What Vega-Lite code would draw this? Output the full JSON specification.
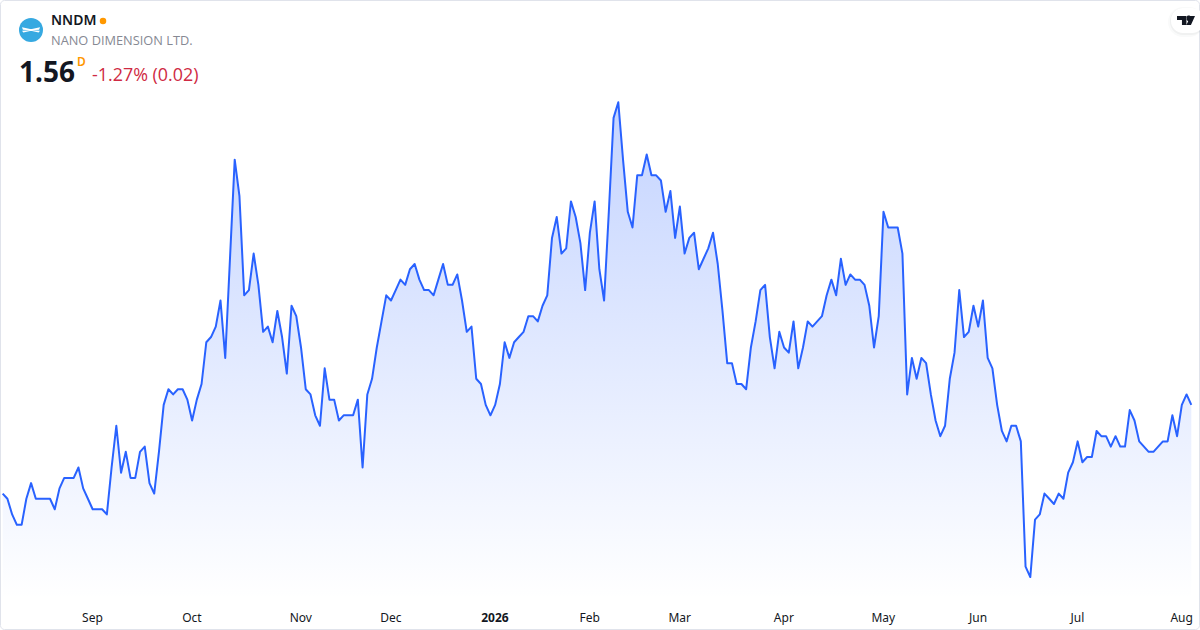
{"$schema":"https://vega.github.io/schema/vega-lite/v6.json","width":1200,"height":600,"padding":{"left":0,"top":0,"right":0,"bottom":30},"autosize":"none","background":"#ffffff","config":{"view":{"stroke":null},"font":"Noto Sans"},
"datasets":{"prices":[
{"d":"2025-08-05","c":1.39},{"d":"2025-08-06","c":1.38},{"d":"2025-08-07","c":1.35},{"d":"2025-08-08","c":1.33},{"d":"2025-08-11","c":1.33},{"d":"2025-08-12","c":1.38},{"d":"2025-08-13","c":1.41},{"d":"2025-08-14","c":1.38},{"d":"2025-08-15","c":1.38},{"d":"2025-08-18","c":1.38},{"d":"2025-08-19","c":1.38},{"d":"2025-08-20","c":1.36},{"d":"2025-08-21","c":1.40},{"d":"2025-08-22","c":1.42},{"d":"2025-08-25","c":1.42},{"d":"2025-08-26","c":1.42},{"d":"2025-08-27","c":1.44},{"d":"2025-08-28","c":1.40},{"d":"2025-08-29","c":1.38},
{"d":"2025-09-02","c":1.36},{"d":"2025-09-03","c":1.36},{"d":"2025-09-04","c":1.36},{"d":"2025-09-05","c":1.35},{"d":"2025-09-08","c":1.44},{"d":"2025-09-09","c":1.52},{"d":"2025-09-10","c":1.43},{"d":"2025-09-11","c":1.47},{"d":"2025-09-12","c":1.42},{"d":"2025-09-15","c":1.42},{"d":"2025-09-16","c":1.47},{"d":"2025-09-17","c":1.48},{"d":"2025-09-18","c":1.41},{"d":"2025-09-19","c":1.39},{"d":"2025-09-22","c":1.47},{"d":"2025-09-23","c":1.56},{"d":"2025-09-24","c":1.59},{"d":"2025-09-25","c":1.58},{"d":"2025-09-26","c":1.59},{"d":"2025-09-29","c":1.59},{"d":"2025-09-30","c":1.57},
{"d":"2025-10-01","c":1.53},{"d":"2025-10-02","c":1.57},{"d":"2025-10-03","c":1.60},{"d":"2025-10-06","c":1.68},{"d":"2025-10-07","c":1.69},{"d":"2025-10-08","c":1.71},{"d":"2025-10-09","c":1.76},{"d":"2025-10-10","c":1.65},{"d":"2025-10-13","c":1.84},{"d":"2025-10-14","c":2.03},{"d":"2025-10-15","c":1.96},{"d":"2025-10-16","c":1.77},{"d":"2025-10-17","c":1.78},{"d":"2025-10-20","c":1.85},{"d":"2025-10-21","c":1.79},{"d":"2025-10-22","c":1.70},{"d":"2025-10-23","c":1.71},{"d":"2025-10-24","c":1.68},{"d":"2025-10-27","c":1.74},{"d":"2025-10-28","c":1.69},{"d":"2025-10-29","c":1.62},{"d":"2025-10-30","c":1.75},{"d":"2025-10-31","c":1.73},
{"d":"2025-11-03","c":1.67},{"d":"2025-11-04","c":1.59},{"d":"2025-11-05","c":1.58},{"d":"2025-11-06","c":1.54},{"d":"2025-11-07","c":1.52},{"d":"2025-11-10","c":1.63},{"d":"2025-11-11","c":1.57},{"d":"2025-11-12","c":1.57},{"d":"2025-11-13","c":1.53},{"d":"2025-11-14","c":1.54},{"d":"2025-11-17","c":1.54},{"d":"2025-11-18","c":1.54},{"d":"2025-11-19","c":1.57},{"d":"2025-11-20","c":1.44},{"d":"2025-11-21","c":1.58},{"d":"2025-11-24","c":1.61},{"d":"2025-11-25","c":1.67},{"d":"2025-11-26","c":1.72},{"d":"2025-11-28","c":1.77},
{"d":"2025-12-01","c":1.76},{"d":"2025-12-02","c":1.78},{"d":"2025-12-03","c":1.80},{"d":"2025-12-04","c":1.79},{"d":"2025-12-05","c":1.82},{"d":"2025-12-08","c":1.83},{"d":"2025-12-09","c":1.80},{"d":"2025-12-10","c":1.78},{"d":"2025-12-11","c":1.78},{"d":"2025-12-12","c":1.77},{"d":"2025-12-15","c":1.80},{"d":"2025-12-16","c":1.83},{"d":"2025-12-17","c":1.79},{"d":"2025-12-18","c":1.79},{"d":"2025-12-19","c":1.81},{"d":"2025-12-22","c":1.76},{"d":"2025-12-23","c":1.70},{"d":"2025-12-24","c":1.71},{"d":"2025-12-26","c":1.61},{"d":"2025-12-29","c":1.60},{"d":"2025-12-30","c":1.56},{"d":"2025-12-31","c":1.54},
{"d":"2026-01-02","c":1.56},{"d":"2026-01-05","c":1.60},{"d":"2026-01-06","c":1.68},{"d":"2026-01-07","c":1.65},{"d":"2026-01-08","c":1.68},{"d":"2026-01-09","c":1.69},{"d":"2026-01-12","c":1.70},{"d":"2026-01-13","c":1.73},{"d":"2026-01-14","c":1.73},{"d":"2026-01-15","c":1.72},{"d":"2026-01-16","c":1.75},{"d":"2026-01-20","c":1.77},{"d":"2026-01-21","c":1.88},{"d":"2026-01-22","c":1.92},{"d":"2026-01-23","c":1.85},{"d":"2026-01-26","c":1.86},{"d":"2026-01-27","c":1.95},{"d":"2026-01-28","c":1.92},{"d":"2026-01-29","c":1.87},{"d":"2026-01-30","c":1.78},
{"d":"2026-02-02","c":1.89},{"d":"2026-02-03","c":1.95},{"d":"2026-02-04","c":1.82},{"d":"2026-02-05","c":1.76},{"d":"2026-02-06","c":1.93},{"d":"2026-02-09","c":2.11},{"d":"2026-02-10","c":2.14},{"d":"2026-02-11","c":2.03},{"d":"2026-02-12","c":1.93},{"d":"2026-02-13","c":1.90},{"d":"2026-02-17","c":2.00},{"d":"2026-02-18","c":2.00},{"d":"2026-02-19","c":2.04},{"d":"2026-02-20","c":2.00},{"d":"2026-02-23","c":2.00},{"d":"2026-02-24","c":1.99},{"d":"2026-02-25","c":1.93},{"d":"2026-02-26","c":1.97},{"d":"2026-02-27","c":1.88},
{"d":"2026-03-02","c":1.94},{"d":"2026-03-03","c":1.85},{"d":"2026-03-04","c":1.88},{"d":"2026-03-05","c":1.89},{"d":"2026-03-06","c":1.82},{"d":"2026-03-09","c":1.84},{"d":"2026-03-10","c":1.86},{"d":"2026-03-11","c":1.89},{"d":"2026-03-12","c":1.83},{"d":"2026-03-13","c":1.74},{"d":"2026-03-16","c":1.64},{"d":"2026-03-17","c":1.64},{"d":"2026-03-18","c":1.60},{"d":"2026-03-19","c":1.60},{"d":"2026-03-20","c":1.59},{"d":"2026-03-23","c":1.67},{"d":"2026-03-24","c":1.72},{"d":"2026-03-25","c":1.78},{"d":"2026-03-26","c":1.79},{"d":"2026-03-27","c":1.69},{"d":"2026-03-30","c":1.63},{"d":"2026-03-31","c":1.70},
{"d":"2026-04-01","c":1.67},{"d":"2026-04-02","c":1.66},{"d":"2026-04-06","c":1.72},{"d":"2026-04-07","c":1.63},{"d":"2026-04-08","c":1.67},{"d":"2026-04-09","c":1.72},{"d":"2026-04-10","c":1.71},{"d":"2026-04-13","c":1.72},{"d":"2026-04-14","c":1.73},{"d":"2026-04-15","c":1.77},{"d":"2026-04-16","c":1.80},{"d":"2026-04-17","c":1.77},{"d":"2026-04-20","c":1.84},{"d":"2026-04-21","c":1.79},{"d":"2026-04-22","c":1.81},{"d":"2026-04-23","c":1.80},{"d":"2026-04-24","c":1.80},{"d":"2026-04-27","c":1.79},{"d":"2026-04-28","c":1.75},{"d":"2026-04-29","c":1.67},{"d":"2026-04-30","c":1.73},
{"d":"2026-05-01","c":1.93},{"d":"2026-05-04","c":1.90},{"d":"2026-05-05","c":1.90},{"d":"2026-05-06","c":1.90},{"d":"2026-05-07","c":1.85},{"d":"2026-05-08","c":1.58},{"d":"2026-05-11","c":1.65},{"d":"2026-05-12","c":1.61},{"d":"2026-05-13","c":1.65},{"d":"2026-05-14","c":1.64},{"d":"2026-05-15","c":1.58},{"d":"2026-05-18","c":1.53},{"d":"2026-05-19","c":1.50},{"d":"2026-05-20","c":1.52},{"d":"2026-05-21","c":1.61},{"d":"2026-05-22","c":1.66},{"d":"2026-05-26","c":1.78},{"d":"2026-05-27","c":1.69},{"d":"2026-05-28","c":1.70},{"d":"2026-05-29","c":1.75},
{"d":"2026-06-01","c":1.71},{"d":"2026-06-02","c":1.76},{"d":"2026-06-03","c":1.65},{"d":"2026-06-04","c":1.63},{"d":"2026-06-05","c":1.56},{"d":"2026-06-08","c":1.51},{"d":"2026-06-09","c":1.49},{"d":"2026-06-10","c":1.52},{"d":"2026-06-11","c":1.52},{"d":"2026-06-12","c":1.49},{"d":"2026-06-15","c":1.25},{"d":"2026-06-16","c":1.23},{"d":"2026-06-17","c":1.34},{"d":"2026-06-18","c":1.35},{"d":"2026-06-22","c":1.39},{"d":"2026-06-23","c":1.38},{"d":"2026-06-24","c":1.37},{"d":"2026-06-25","c":1.39},{"d":"2026-06-26","c":1.38},{"d":"2026-06-29","c":1.43},{"d":"2026-06-30","c":1.45},
{"d":"2026-07-01","c":1.49},{"d":"2026-07-02","c":1.45},{"d":"2026-07-06","c":1.46},{"d":"2026-07-07","c":1.46},{"d":"2026-07-08","c":1.51},{"d":"2026-07-09","c":1.50},{"d":"2026-07-10","c":1.50},{"d":"2026-07-13","c":1.48},{"d":"2026-07-14","c":1.50},{"d":"2026-07-15","c":1.48},{"d":"2026-07-16","c":1.48},{"d":"2026-07-17","c":1.55},{"d":"2026-07-20","c":1.53},{"d":"2026-07-21","c":1.49},{"d":"2026-07-22","c":1.48},{"d":"2026-07-23","c":1.47},{"d":"2026-07-24","c":1.47},{"d":"2026-07-27","c":1.48},{"d":"2026-07-28","c":1.49},{"d":"2026-07-29","c":1.49},{"d":"2026-07-30","c":1.54},{"d":"2026-07-31","c":1.50},
{"d":"2026-08-03","c":1.56},{"d":"2026-08-04","c":1.58},{"d":"2026-08-05","c":1.56}
]},
"layer":[
{"data":{"values":[{"k":"frame"}]},"mark":{"type":"rect","x":0.5,"y":0.5,"x2":1199.5,"y2":629.5,"fill":"transparent","stroke":"#e0e3eb","strokeWidth":1,"cornerRadius":4},"encoding":{}},
{"data":{"name":"prices"},"mark":{"type":"area","line":false,"color":{"gradient":"linear","x1":1,"y1":0,"x2":1,"y2":1,"stops":[{"offset":0,"color":"rgba(41,98,255,0.28)"},{"offset":1,"color":"rgba(41,98,255,0.0)"}]}},
"encoding":{"x":{"field":"d","type":"ordinal","title":null,"scale":{"type":"point","padding":0,"range":[2.67,1191.3]},
"axis":{"values":["2025-09-02","2025-10-01","2025-11-03","2025-12-01","2026-01-02","2026-02-02","2026-03-02","2026-04-01","2026-05-01","2026-06-01","2026-07-01","2026-08-03"],"labelExpr":"{'2025-09-02':'Sep','2025-10-01':'Oct','2025-11-03':'Nov','2025-12-01':'Dec','2026-01-02':'2026','2026-02-02':'Feb','2026-03-02':'Mar','2026-04-01':'Apr','2026-05-01':'May','2026-06-01':'Jun','2026-07-01':'Jul','2026-08-03':'Aug'}[datum.value]","labelAngle":0,"labelOffset":-0.7,"domain":false,"ticks":false,"grid":false,"labelFont":"Noto Sans","labelFontSize":12,"labelColor":"#131722","labelPadding":12,"labelFontWeight":{"condition":{"test":"datum.value=='2026-01-02'","value":"bold"},"value":"normal"}}},
"y":{"field":"c","type":"quantitative","title":null,"scale":{"domain":[1.186,2.336],"zero":false,"nice":false},"axis":null},"y2":{"datum":1.186}}},
{"data":{"name":"prices"},"mark":{"type":"line","color":"#2962ff","strokeWidth":2,"strokeJoin":"round","interpolate":"linear"},
"encoding":{"x":{"field":"d","type":"ordinal","scale":{"type":"point","padding":0,"range":[2.67,1191.3]}},"y":{"field":"c","type":"quantitative","scale":{"domain":[1.186,2.336],"zero":false,"nice":false}}}},
{"data":{"values":[{"k":"logo"}]},"mark":{"type":"point","x":31,"y":30,"size":576,"shape":"circle","filled":true,"color":"#36a9e1","opacity":1},"encoding":{}},
{"data":{"values":[{"k":"wings"}]},"mark":{"type":"point","x":31,"y":30,"size":324,"filled":true,"color":"#ffffff","opacity":1,"shape":"M-1,-0.3 L-0.1,-0.1 L0.1,-0.1 L1,-0.3 L0.9,-0.02 L0.1,0.03 L1,0.08 L0.85,0.27 L0.1,0.12 L-0.1,0.12 L-0.85,0.27 L-1,0.08 L-0.1,0.03 L-0.9,-0.02 Z"},"encoding":{}},
{"data":{"values":[{"t":"NNDM"}]},"mark":{"type":"text","x":51,"y":21,"align":"left","baseline":"middle","font":"Noto Sans","fontSize":14,"fontWeight":600,"color":"#131722"},"encoding":{"text":{"field":"t"}}},
{"data":{"values":[{"k":"status"}]},"mark":{"type":"point","x":103,"y":21,"size":42,"shape":"circle","filled":true,"color":"#ff9800","opacity":1},"encoding":{}},
{"data":{"values":[{"t":"NANO DIMENSION LTD."}]},"mark":{"type":"text","x":51,"y":41,"align":"left","baseline":"middle","font":"Open Sans","fontSize":12.8,"color":"#868993"},"encoding":{"text":{"field":"t"}}},
{"data":{"values":[{"t":"1.56"}]},"mark":{"type":"text","x":19,"y":82,"align":"left","baseline":"alphabetic","font":"Noto Sans","fontSize":28,"fontWeight":700,"color":"#131722"},"encoding":{"text":{"field":"t"}}},
{"data":{"values":[{"t":"D"}]},"mark":{"type":"text","x":77,"y":66,"align":"left","baseline":"alphabetic","font":"Noto Sans","fontSize":12,"fontWeight":600,"color":"#ff9800"},"encoding":{"text":{"field":"t"}}},
{"data":{"values":[{"t":"-1.27% (0.02)"}]},"mark":{"type":"text","x":92,"y":81,"align":"left","baseline":"alphabetic","font":"Open Sans","fontSize":17.9,"color":"#cf2a43"},"encoding":{"text":{"field":"t"}}},
{"data":{"values":[{"k":"badgeshadow"}]},"mark":{"type":"rect","x":1168,"y":7,"x2":1204,"y2":37,"fill":"#131722","opacity":0.025,"cornerRadius":15},"encoding":{}},
{"data":{"values":[{"k":"badgeshadow2"}]},"mark":{"type":"rect","x":1170,"y":8,"x2":1204,"y2":35,"fill":"#131722","opacity":0.04,"cornerRadius":13},"encoding":{}},
{"data":{"values":[{"k":"badge"}]},"mark":{"type":"rect","x":1171,"y":8,"x2":1204,"y2":33,"fill":"#ffffff","cornerRadius":12},"encoding":{}},
{"data":{"values":[{"k":"tv"}]},"mark":{"type":"point","x":1186,"y":20.5,"size":324,"filled":true,"color":"#131722","opacity":1,"shape":"M-1,-0.5 H0.05 V0.5 H-0.45 V-0.05 H-1 Z M0.1,-0.25 A0.22,0.22 0 1 1 0.5,-0.25 A0.22,0.22 0 1 1 0.1,-0.25 Z M0.5,-0.5 H1 L0.55,0.5 H0.05 Z"},"encoding":{}}
]}
